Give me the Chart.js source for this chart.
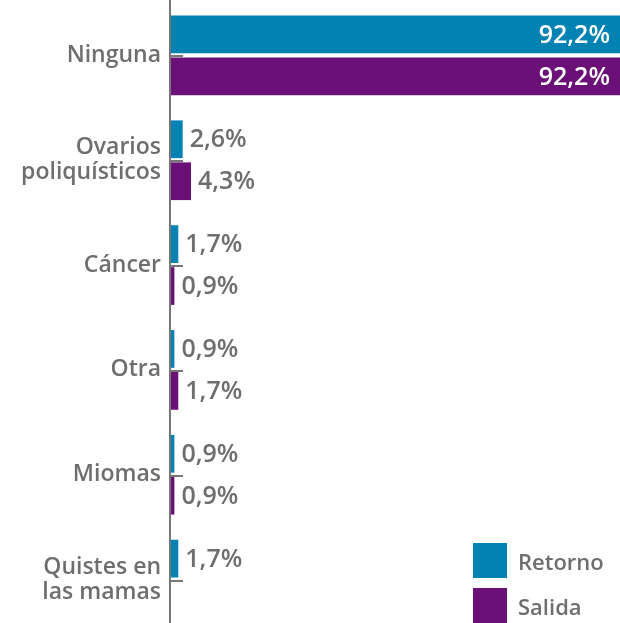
<!DOCTYPE html>
<html>
<head>
<meta charset="utf-8">
<script src="https://cdn.jsdelivr.net/npm/chart.js@4/dist/chart.umd.min.js"></script>
<style>
  html, body { margin: 0; padding: 0; background: #fff; overflow: hidden; }
  #wrap { position: relative; width: 620px; height: 632px; }
  #legend { position: absolute; left: 473px; top: 543px; font-family: "Open Sans", sans-serif; font-weight: 600; font-size: 22px; color: #6d6e70; }
  .item { display: flex; align-items: center; height: 35px; margin-bottom: 10px; }
  .sw { width: 34px; height: 35px; margin-right: 11px; }
</style>
</head>
<body>
<div id="wrap">
  <canvas id="c" width="620" height="632"></canvas>
  <div id="legend"></div>
</div>
<script>
const categories = [["Ninguna"], ["Ovarios", "poliquísticos"], ["Cáncer"], ["Otra"], ["Miomas"], ["Quistes en", "las mamas"]];
const retorno = [92.2, 2.6, 1.7, 0.9, 0.9, 1.7];
const salida = [92.2, 4.3, 0.9, 1.7, 0.9, null];
const seriesNames = ["Retorno", "Salida"];
const colors = ["#0082b2", "#6b1076"];
const TEXT = "#6d6e70";

const labelPlugin = {
  id: "valueLabels",
  afterDatasetsDraw(chart) {
    const ctx = chart.ctx;
    ctx.save();
    ctx.font = "600 25px 'Open Sans', sans-serif";
    ctx.textBaseline = "middle";
    chart.data.datasets.forEach((ds, di) => {
      const meta = chart.getDatasetMeta(di);
      meta.data.forEach((bar, i) => {
        const v = ds.data[i];
        if (v === null || v === undefined) return;
        const txt = v.toFixed(1).replace(".", ",") + "%";
        if (v > 50) {
          ctx.fillStyle = "#ffffff";
          ctx.textAlign = "right";
          ctx.fillText(txt, bar.x - 10, bar.y + 1);
        } else {
          ctx.fillStyle = TEXT;
          ctx.textAlign = "left";
          ctx.fillText(txt, bar.x + 7, bar.y + 1);
        }
      });
    });
    ctx.restore();
  }
};

const axisPlugin = {
  id: "axisTicks",
  afterDatasetsDraw(chart) {
    const ctx = chart.ctx;
    const y = chart.scales.y;
    const x0 = chart.chartArea.left;
    ctx.save();
    ctx.strokeStyle = "#777777";
    ctx.lineWidth = 2;
    ctx.beginPath();
    ctx.moveTo(x0, 0);
    ctx.lineTo(x0, chart.height);
    ctx.stroke();
    y.ticks.forEach((t, i) => {
      const py = Math.round(y.getPixelForTick(i)) + 1;
      ctx.beginPath();
      ctx.moveTo(x0, py);
      ctx.lineTo(x0 + 13, py);
      ctx.stroke();
    });
    ctx.restore();
  }
};

new Chart(document.getElementById("c"), {
  type: "bar",
  data: {
    labels: categories,
    datasets: [
      { label: seriesNames[0], data: retorno, backgroundColor: colors[0], barPercentage: 0.9, categoryPercentage: 0.8 },
      { label: seriesNames[1], data: salida, backgroundColor: colors[1], barPercentage: 0.9, categoryPercentage: 0.8 }
    ]
  },
  options: {
    indexAxis: "y",
    responsive: false,
    animation: false,
    layout: { padding: { top: 3, bottom: 0, left: 0, right: 0 } },
    plugins: { legend: { display: false }, tooltip: { enabled: false } },
    scales: {
      x: { display: false, min: 0, max: 92.2 },
      y: {
        border: { display: false },
        grid: { display: false, drawTicks: false },
        ticks: { color: TEXT, padding: 9, font: { family: "'Open Sans', sans-serif", size: 23, weight: "600", lineHeight: 1.08 } },
        afterFit(scale) { scale.width = 170; scale.paddingTop = 0; scale.paddingBottom = 0; }
      }
    }
  },
  plugins: [labelPlugin, axisPlugin]
});

const leg = document.getElementById("legend");
seriesNames.forEach((n, i) => {
  const d = document.createElement("div");
  d.className = "item";
  d.innerHTML = '<div class="sw" style="background:' + colors[i] + '"></div><span>' + n + '</span>';
  leg.appendChild(d);
});
</script>
</body>
</html>
